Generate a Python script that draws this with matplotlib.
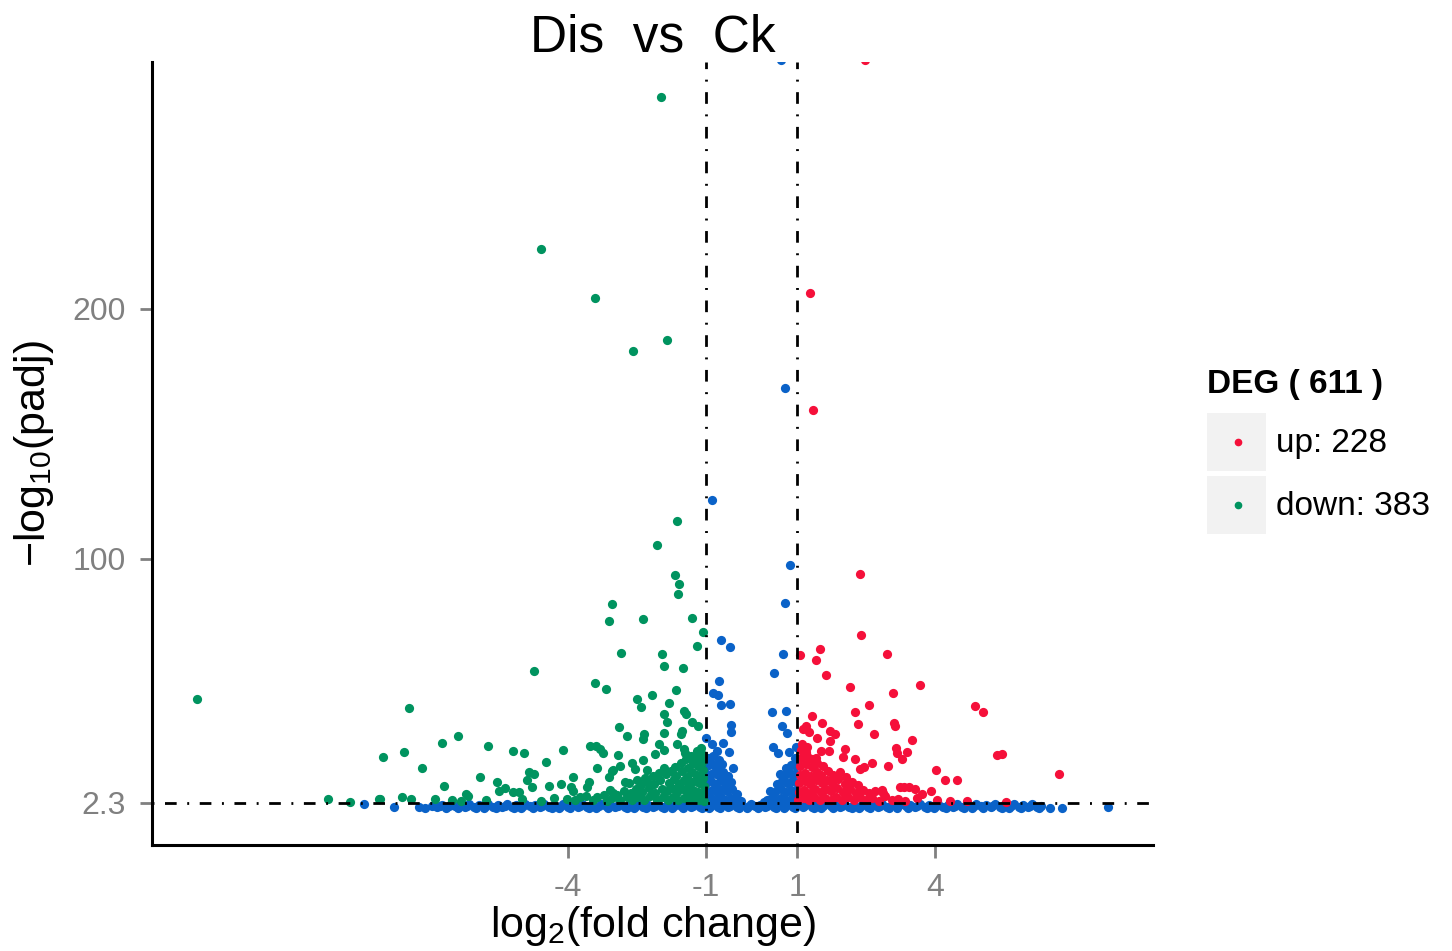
import numpy as np
import matplotlib
matplotlib.use("Agg")
import matplotlib.pyplot as plt
from matplotlib.patches import Rectangle
from matplotlib.lines import Line2D

plt.rcParams['font.family'] = ['Liberation Sans', 'DejaVu Sans']
plt.rcParams['mathtext.fontset'] = 'custom'
plt.rcParams['mathtext.rm'] = 'Liberation Sans'
plt.rcParams['mathtext.it'] = 'Liberation Sans:italic'

# thresholds
fc_cut = [-1, 1]
p_cut = 2.3
x_ticks = [-4, -1, 1, 4]
y_ticks = [2.3, 100, 200]
y_tick_labels = ["2.3", "100", "200"]

# significant, down-regulated (log2FC, -log10 padj)
down_pts = [
    (-1.97, 284.7), (-4.59, 223.9), (-3.41, 204.3), (-2.58, 183.1), (-1.84, 187.5),
    (-1.62, 115.1), (-2.06, 105.5), (-1.67, 93.5), (-1.58, 89.9), (-1.60, 85.9),
    (-3.04, 81.9), (-3.11, 75.1), (-2.37, 75.9), (-1.30, 76.3), (-1.06, 70.7),
    (-1.19, 65.1), (-2.84, 62.3), (-1.95, 61.9), (-1.91, 57.1), (-1.49, 56.3),
    (-4.74, 55.1), (-3.41, 50.3), (-3.17, 47.9), (-1.65, 47.5), (-2.17, 45.5),
    (-2.50, 43.9), (-2.41, 40.7), (-1.80, 42.3), (-1.47, 39.1), (-1.43, 37.9),
    (-1.91, 37.9), (-1.84, 34.7), (-1.30, 34.7), (-1.17, 33.1), (-2.89, 32.7),
    (-2.71, 29.1), (-2.34, 29.9), (-2.37, 27.9), (-1.91, 30.3), (-1.52, 31.1),
    (-1.54, 29.9), (-1.62, 25.9), (-2.02, 25.9), (-1.91, 23.5), (-2.10, 21.9),
    (-1.47, 23.9), (-1.45, 22.3), (-3.52, 25.1), (-3.39, 25.1), (-3.30, 23.9),
    (-3.24, 22.3), (-2.91, 21.5), (-2.60, 18.3), (-2.54, 15.9), (-2.28, 15.5),
    (-2.37, 19.5), (-3.02, 15.5), (-2.87, 17.1), (-3.37, 16.3), (-4.11, 23.5),
    (-4.48, 18.7), (-5.20, 22.9), (-4.96, 22.3), (-5.74, 25.1), (-6.40, 29.1),
    (-6.75, 26.3), (-7.47, 40.3), (-7.57, 22.7), (-8.03, 20.7), (-7.18, 16.3),
    (-5.92, 12.7), (-5.55, 10.7), (-5.37, 8.3), (-5.50, 7.1), (-5.20, 6.7),
    (-5.07, 6.7), (-4.85, 14.7), (-4.74, 13.9), (-4.89, 11.5), (-4.78, 8.7),
    (-4.41, 9.1), (-4.15, 9.9), (-3.89, 12.7), (-3.93, 8.7), (-3.89, 7.1),
    (-3.54, 10.7), (-3.59, 8.7), (-3.11, 12.7), (-3.04, 15.1), (-2.76, 10.7),
    (-2.67, 10.3), (-2.50, 11.5), (-2.32, 12.3), (-6.70, 9.1), (-6.22, 5.9),
    (-6.18, 5.1), (-6.53, 3.5), (-6.33, 3.1), (-7.62, 4.7), (-7.42, 3.9),
    (-6.90, 3.9), (-8.10, 3.9), (-4.02, 3.9), (-3.74, 4.7), (-3.37, 4.7),
    (-3.08, 7.5), (-3.02, 6.3), (-12.09, 43.9), (-9.23, 3.9), (-8.75, 2.6),
    (-8.12, 3.9),
    (-1.03, 3.2), (-1.05, 5.8), (-1.04, 8.9), (-1.06, 12.1), (-1.05, 15.3),
    (-1.08, 18.6), (-1.07, 21.4), (-1.10, 24.2), (-1.15, 3.6), (-1.17, 6.7),
    (-1.14, 10.2), (-1.18, 13.6), (-1.16, 17.0), (-1.20, 20.3), (-1.19, 23.1),
    (-1.26, 4.1), (-1.28, 7.4), (-1.25, 11.0), (-1.30, 14.5), (-1.27, 18.1),
    (-1.32, 21.0), (-1.37, 3.3), (-1.39, 6.2), (-1.36, 9.6), (-1.41, 12.8),
    (-1.38, 16.4), (-1.43, 19.7), (-1.48, 4.4), (-1.50, 7.9), (-1.47, 11.3),
    (-1.52, 14.9), (-1.55, 18.2), (-1.60, 3.5), (-1.62, 6.5), (-1.59, 9.8),
    (-1.64, 13.1), (-1.66, 16.6), (-1.71, 4.8), (-1.73, 8.2), (-1.70, 11.7),
    (-1.76, 15.0), (-1.82, 3.4), (-1.84, 6.9), (-1.81, 10.4), (-1.87, 13.8),
    (-1.90, 16.2), (-1.94, 4.6), (-1.96, 8.0), (-1.99, 11.5), (-2.02, 14.4),
    (-2.07, 3.3), (-2.10, 6.4), (-2.12, 9.7), (-2.16, 12.9), (-2.21, 4.9),
    (-2.24, 8.1), (-2.28, 11.2), (-2.35, 3.5), (-2.38, 6.6), (-2.41, 9.5),
    (-2.49, 4.7), (-2.53, 7.8), (-2.60, 3.6), (-2.64, 6.1), (-2.72, 4.5),
    (-2.78, 7.2), (-2.86, 3.4), (-2.93, 5.6), (-3.05, 4.2), (-3.15, 3.1),
    (-3.22, 5.5), (-3.45, 3.6), (-3.60, 4.9), (-3.85, 3.3), (-4.30, 4.1),
    (-4.60, 3.0), (-5.00, 3.8), (-5.80, 3.4),
]

# significant, up-regulated
up_pts = [
    (2.47, 299.5), (1.28, 206.3), (1.34, 159.5), (2.36, 93.9), (2.39, 69.5),
    (1.49, 63.9), (1.41, 59.5), (1.06, 61.5), (2.95, 61.9), (1.62, 53.5),
    (3.67, 49.5), (2.15, 48.7), (3.08, 46.3), (2.56, 41.5), (4.87, 41.1),
    (5.05, 38.7), (2.26, 38.7), (1.32, 37.1), (1.54, 34.3), (2.32, 33.9),
    (3.11, 34.3), (3.13, 33.1), (1.19, 33.1), (1.12, 31.9), (1.25, 30.7),
    (1.71, 31.1), (1.82, 29.9), (2.67, 29.9), (1.43, 28.3), (3.50, 27.5),
    (1.71, 27.1), (3.15, 24.3), (3.17, 22.3), (3.39, 22.7), (3.28, 19.9),
    (5.35, 21.5), (5.46, 21.9), (6.70, 13.9), (1.19, 22.7), (1.52, 23.1),
    (1.69, 23.1), (2.04, 23.9), (1.41, 20.3), (2.00, 20.7), (2.26, 19.9),
    (2.63, 18.3), (2.98, 17.1), (2.36, 15.9), (2.45, 16.7), (4.02, 15.5),
    (4.22, 11.5), (4.48, 11.5), (3.24, 8.7), (3.32, 8.7), (3.43, 8.7),
    (3.56, 7.9), (3.91, 7.1), (2.84, 7.5), (2.87, 6.3), (3.72, 5.9),
    (3.19, 3.9), (4.33, 3.1), (5.55, 2.7),
    (1.02, 3.4), (1.03, 6.8), (1.04, 10.1), (1.05, 13.5), (1.06, 16.9),
    (1.08, 20.2), (1.07, 23.6), (1.10, 26.0), (1.14, 4.2), (1.15, 7.6),
    (1.17, 11.0), (1.16, 14.4), (1.19, 17.8), (1.21, 21.1), (1.20, 24.5),
    (1.26, 3.5), (1.28, 6.3), (1.27, 9.7), (1.30, 13.1), (1.32, 16.5),
    (1.31, 19.9), (1.37, 4.6), (1.39, 8.0), (1.41, 11.4), (1.43, 14.8),
    (1.42, 18.1), (1.49, 3.3), (1.51, 6.7), (1.53, 10.2), (1.52, 13.6),
    (1.55, 16.9), (1.60, 4.4), (1.62, 7.9), (1.64, 11.5), (1.66, 15.0),
    (1.72, 3.6), (1.74, 6.9), (1.76, 10.3), (1.78, 13.6), (1.84, 4.8),
    (1.86, 8.2), (1.89, 11.7), (1.93, 14.6), (1.97, 3.4), (2.00, 6.6),
    (2.03, 9.9), (2.06, 12.8), (2.10, 4.5), (2.14, 7.7), (2.18, 10.8),
    (2.23, 3.3), (2.27, 6.2), (2.31, 9.4), (2.37, 4.7), (2.42, 7.6),
    (2.50, 3.5), (2.55, 6.4), (2.63, 4.3), (2.70, 7.0), (2.77, 3.2),
    (2.90, 5.0), (3.05, 3.6), (3.35, 3.1), (3.60, 4.1), (4.05, 3.5),
    (4.70, 3.2),
]

# not DEG: |log2FC| < 1 but small padj
ns_mid = [
    (-0.86, 123.5), (-0.66, 67.5), (-0.47, 64.7), (-0.71, 51.1), (-0.84, 46.3),
    (-0.73, 45.5), (-0.66, 41.5), (-0.47, 41.9), (-0.45, 33.5), (-0.45, 30.7),
    (-0.99, 28.3), (-0.86, 25.9), (-0.62, 26.3), (-0.75, 23.1), (-0.49, 22.7),
    (-0.40, 16.3),
    (-0.98, 3.4), (-0.97, 6.8), (-0.99, 10.2), (-0.96, 13.6), (-0.98, 17.0),
    (-0.95, 20.4), (-0.88, 4.1), (-0.86, 7.5), (-0.89, 10.9), (-0.85, 14.3),
    (-0.87, 17.7), (-0.84, 21.0), (-0.77, 3.3), (-0.75, 6.6), (-0.78, 10.0),
    (-0.74, 13.4), (-0.76, 16.6), (-0.72, 19.6), (-0.66, 4.5), (-0.64, 7.9),
    (-0.67, 11.3), (-0.62, 14.5), (-0.65, 18.0), (-0.55, 3.6), (-0.53, 6.9),
    (-0.56, 10.4), (-0.51, 13.2), (-0.44, 4.3), (-0.42, 7.7), (-0.46, 10.6),
    (-0.34, 3.2), (-0.31, 5.8), (-0.24, 3.0),
    (0.64, 299.5), (0.73, 168.3), (0.84, 97.5), (0.73, 82.3), (0.69, 61.9),
    (0.49, 54.3), (0.45, 38.7), (0.75, 39.1), (0.66, 33.1), (0.77, 30.3),
    (0.47, 24.7), (0.97, 24.7), (0.58, 22.3), (0.82, 22.7),
    (0.97, 3.5), (0.96, 6.9), (0.98, 10.3), (0.95, 13.7), (0.97, 17.1),
    (0.94, 20.3), (0.87, 4.2), (0.85, 7.6), (0.88, 11.0), (0.84, 14.4),
    (0.86, 17.6), (0.76, 3.4), (0.74, 6.8), (0.77, 10.1), (0.73, 13.3),
    (0.75, 16.2), (0.65, 4.4), (0.63, 7.7), (0.66, 11.0), (0.61, 14.0),
    (0.54, 3.6), (0.52, 6.7), (0.55, 9.8), (0.43, 4.0), (0.41, 7.0),
    (0.33, 3.3), (0.27, 2.8),
]

# not DEG: padj above cutoff (the band along the bottom)
ns_band = [
    (-8.45, 1.9), (-7.79, 0.7), (-7.25, 0.7), (-7.12, 0.3), (-6.97, 0.9),
    (-6.85, 0.6), (-6.76, 1.5), (-6.66, 0.4), (-6.55, 1.8), (-6.47, 0.9),
    (-6.36, 1.3), (-6.25, 0.5), (-6.16, 1.9), (-6.05, 0.7), (-5.95, 1.4),
    (-5.84, 0.3), (-5.75, 1.7), (-5.64, 0.8), (-5.53, 1.5), (-5.44, 0.5),
    (-5.33, 2.0), (-5.23, 0.6), (-5.13, 1.4), (-5.02, 0.4), (-4.93, 1.8),
    (-4.82, 0.9), (-4.72, 1.3), (-4.61, 0.5), (-4.52, 1.9), (-4.41, 0.7),
    (-4.30, 1.6), (-4.20, 0.3), (-4.11, 1.7), (-4.00, 0.8), (-3.90, 1.4),
    (-3.79, 0.5), (-3.70, 2.0), (-3.59, 0.6), (-3.48, 1.5), (-3.39, 0.4),
    (-3.28, 1.8), (-3.18, 0.9), (-3.08, 1.3), (-2.97, 0.5), (-2.88, 1.9),
    (-2.77, 0.7), (-2.67, 1.6), (-2.56, 0.3), (-2.47, 1.7), (-2.36, 0.8),
    (-2.26, 1.4), (-2.15, 0.5), (-2.06, 2.0), (-1.95, 0.6), (-1.85, 1.5),
    (-1.74, 0.4), (-1.65, 1.8), (-1.54, 0.9), (-1.44, 1.3), (-1.33, 0.5),
    (-1.24, 1.9), (-1.13, 0.7), (-1.03, 1.6), (-0.93, 0.3), (-0.84, 1.7),
    (-0.73, 0.8), (-0.63, 1.4), (-0.52, 0.5), (-0.43, 2.0), (-0.32, 0.6),
    (-0.22, 1.5), (-0.11, 0.4), (-0.02, 1.8), (0.08, 0.9), (0.18, 1.3),
    (0.29, 0.5), (0.38, 1.9), (0.49, 0.7), (0.59, 1.6), (0.70, 0.3),
    (0.79, 1.7), (0.90, 0.8), (1.00, 1.4), (1.11, 0.5), (1.20, 2.0),
    (1.31, 0.6), (1.41, 1.5), (1.52, 0.4), (1.61, 1.8), (1.72, 0.9),
    (1.82, 1.3), (1.93, 0.5), (2.02, 1.9), (2.13, 0.7), (2.23, 1.6),
    (2.34, 0.3), (2.43, 1.7), (2.54, 0.8), (2.64, 1.4), (2.75, 0.5),
    (2.84, 2.0), (2.95, 0.6), (3.05, 1.5), (3.16, 0.4), (3.25, 1.8),
    (3.36, 0.9), (3.46, 1.3), (3.57, 0.5), (3.66, 1.9), (3.77, 0.7),
    (3.87, 1.6), (3.98, 0.3), (4.07, 1.7), (4.18, 0.8), (4.28, 1.4),
    (4.39, 0.5), (4.48, 2.0), (4.59, 0.6), (4.69, 1.5), (4.80, 0.4),
    (4.89, 1.8), (5.00, 0.9), (5.10, 1.3), (5.21, 0.5), (5.30, 1.9),
    (5.41, 0.7), (5.51, 1.6), (5.62, 0.3), (5.71, 1.7), (5.82, 0.8),
    (5.92, 1.4), (6.03, 0.5), (6.12, 1.8), (6.23, 0.6), (6.30, 1.2),
    (6.51, 0.2), (6.77, 0.2), (7.77, 0.7),
    (-6.80, 1.1), (-6.60, 1.0), (-6.41, 0.2), (-6.20, 1.1), (-6.00, 0.1),
    (-5.80, 1.0), (-5.58, 0.1), (-5.38, 1.1), (-5.18, 0.1), (-4.98, 1.0),
    (-4.77, 0.1), (-4.56, 1.1), (-4.36, 0.1), (-4.15, 1.0), (-3.95, 0.1),
    (-3.74, 1.1), (-3.54, 0.1), (-3.33, 1.0), (-3.13, 0.1), (-2.92, 1.1),
    (-2.72, 0.1), (-2.51, 1.0), (-2.31, 0.1), (-2.10, 1.1), (-1.90, 0.1),
    (-1.69, 1.0), (-1.49, 0.1), (-1.28, 1.1), (-1.08, 0.1), (-0.88, 1.0),
    (-0.68, 0.1), (-0.47, 1.1), (-0.27, 0.1), (-0.06, 1.0), (0.13, 0.1),
    (0.33, 1.1), (0.54, 0.1), (0.74, 1.0), (0.95, 0.1), (1.15, 1.1),
    (1.36, 0.1), (1.56, 1.0), (1.77, 0.1), (1.97, 1.1), (2.18, 0.1),
    (2.38, 1.0), (2.59, 0.1), (2.79, 1.1), (3.00, 0.1), (3.20, 1.0),
    (3.41, 0.1), (3.61, 1.1), (3.82, 0.1), (4.02, 1.0), (4.23, 0.1),
    (4.43, 1.1), (4.64, 0.1), (4.84, 1.0), (5.05, 0.1), (5.25, 1.1),
    (5.46, 0.1), (5.66, 1.0), (5.87, 0.1), (6.07, 1.1), (6.27, 0.1),
]

n_up = 228
n_down = 383

col_up = "#F5103A"
col_down = "#00935F"
col_ns = "#0A62C8"

fig = plt.figure(figsize=(14.52, 9.51), dpi=100)
ax = fig.add_axes([0.1047, 0.1115, 0.6894, 0.8233])

ns = np.array(ns_band + ns_mid)
dn = np.array(down_pts)
up = np.array(up_pts)
ax.scatter(ns[:, 0], ns[:, 1], s=44, color=col_ns, linewidths=0, zorder=2)
ax.scatter(dn[:, 0], dn[:, 1], s=44, color=col_down, linewidths=0, zorder=3)
ax.scatter(up[:, 0], up[:, 1], s=44, color=col_up, linewidths=0, zorder=3)

ls = (0, (0.7, 3.8, 4.2, 3.8))
for v in fc_cut:
    ax.axvline(v, color="black", lw=2.0, linestyle=ls, zorder=4)
ax.axhline(p_cut, color="black", lw=2.0, linestyle=ls, zorder=4)

ax.set_xlim(-13.07, 8.75)
ax.set_ylim(-14.5, 298.7)

ax.set_xticks(x_ticks)
ax.set_xticklabels([str(t) for t in x_ticks])
ax.set_yticks(y_ticks)
ax.set_yticklabels(y_tick_labels)
ax.tick_params(axis="both", colors="#808080", labelsize=23, length=9, width=2.0)
ax.tick_params(axis="x", pad=11)
ax.tick_params(axis="y", pad=10)

for side in ["top", "right"]:
    ax.spines[side].set_visible(False)
for side in ["left", "bottom"]:
    ax.spines[side].set_linewidth(2.2)
    ax.spines[side].set_color("black")

ax.set_xlabel(r"$\mathregular{log_2}$(fold change)", fontsize=31, labelpad=1)
ax.set_ylabel("\u2212" + r"$\mathregular{log_{10}}$(padj)", fontsize=31, labelpad=12)
ax.set_title("Dis  vs  Ck", fontsize=37, pad=6)

# legend
fig.text(0.8313, 0.5952, "DEG ( %d )" % (n_up + n_down), fontsize=24,
         fontweight="bold", va="center", ha="left")
keys = [(0.5047, col_up, "up: %d" % n_up), (0.4385, col_down, "down: %d" % n_down)]
for ky, kc, kl in keys:
    fig.add_artist(Rectangle((0.8313, ky), 0.0406, 0.061, transform=fig.transFigure,
                             facecolor="#F2F2F2", edgecolor="none"))
    fig.add_artist(Line2D([0.8526], [ky + 0.0305], marker="o", markersize=4.5,
                          color=kc, linestyle="none", transform=fig.transFigure))
    fig.text(0.8788, ky + 0.0290, kl, fontsize=24, va="center", ha="left")

fig.savefig("out.png", dpi=100)
